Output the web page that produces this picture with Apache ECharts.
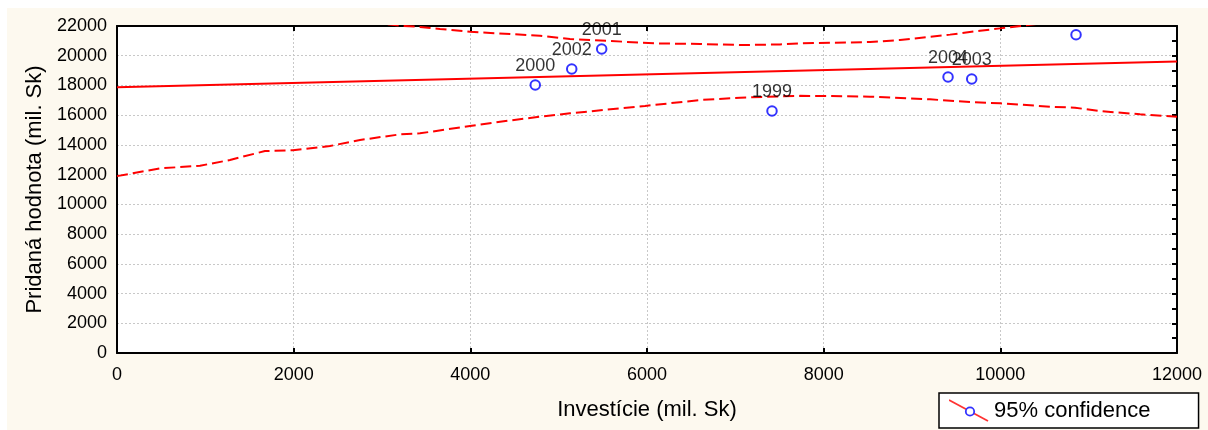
<!DOCTYPE html>
<html>
<head>
<meta charset="utf-8">
<script src="https://cdn.jsdelivr.net/npm/echarts@6/dist/echarts.min.js"></script>
<style>
  html, body { margin: 0; padding: 0; background: #ffffff; }
  #wrap { position: relative; width: 1208px; height: 430px; background: #ffffff; overflow: hidden; }
  #bg { position: absolute; left: 7px; top: 8px; width: 1201px; height: 422px; background: #fdf9ef; }
  #chart { position: absolute; left: 0; top: 0; width: 1208px; height: 430px; }
</style>
</head>
<body>
<div id="wrap"><div id="bg"></div><div id="chart"></div></div>
<script>
// ---- data ----
const pointYears = ['2000', '2002', '2001', '1999', '2004', '2003', ''];
const pointX = [4735, 5148, 5487, 7415, 9408, 9676, 10857];
const pointY = [18030, 19107, 20452, 16281, 18568, 18434, 21415];

const fitX = [0, 12000];
const fitY = [17880, 19620];

const lowerX = [0, 487, 940, 1279, 1675, 1992, 2411, 2751, 3204, 3430, 3996, 4336, 4789, 5128, 5694, 5977, 6600, 7053, 7732, 7993, 8525, 9204, 9657, 9996, 10562, 10846, 11128, 11581, 12000];
const lowerY = [11900, 12420, 12600, 12985, 13590, 13640, 13925, 14330, 14710, 14780, 15270, 15560, 15900, 16125, 16460, 16620, 17020, 17180, 17300, 17290, 17245, 17065, 16890, 16800, 16570, 16500, 16280, 16060, 15900];

const upperX = [0, 940, 1992, 2751, 3204, 3430, 3657, 3996, 4789, 5128, 5581, 6109, 6600, 7053, 7505, 7732, 8525, 8864, 9430, 9770, 9996, 10110, 10562, 11128, 12000];
const upperY = [23860, 23430, 22750, 22320, 22020, 21940, 21800, 21610, 21345, 21120, 20990, 20830, 20790, 20720, 20760, 20830, 20920, 21060, 21420, 21680, 21840, 21910, 22254, 22708, 23340];

const xTicks = { min: 0, max: 12000, step: 2000 };
const yTicks = { min: 0, max: 22000, step: 2000 };

const xLabel = 'Investície (mil. Sk)';
const yLabel = 'Pridaná hodnota (mil. Sk)';
const legendLabel = '95% confidence';

// ---- build ----
const zip = (xs, ys) => xs.map((x, i) => [x, ys[i]]);
const FONT = 'Liberation Sans';

const legendIcon = 'image://data:image/svg+xml;utf8,' + encodeURIComponent(
  '<svg xmlns="http://www.w3.org/2000/svg" width="40" height="23" viewBox="0 0 40 23">' +
  '<line x1="0" y1="1" x2="39" y2="22" stroke="#ff0000" stroke-width="1.8"/>' +
  '<circle cx="21" cy="12.5" r="4.2" fill="#ffffff" stroke="#0000ff" stroke-width="1.8"/>' +
  '</svg>');

const scatterData = pointX.map((x, i) => {
  const d = { value: [x, pointY[i]], name: pointYears[i] };
  if (!pointYears[i]) d.label = { show: false };
  return d;
});

const chart = echarts.init(document.getElementById('chart'), null, { renderer: 'canvas' });
chart.setOption({
  backgroundColor: 'transparent',
  animation: false,
  textStyle: { fontFamily: FONT },
  grid: {
    left: 117, top: 26, right: 31, bottom: 77,
    show: true, backgroundColor: '#ffffff', borderWidth: 0
  },
  legend: {
    data: [{ name: legendLabel, icon: legendIcon }],
    left: 939, top: 393,
    itemWidth: 40, itemHeight: 23,
    padding: [6, 48, 6, 10],
    backgroundColor: '#ffffff',
    borderColor: '#000000', borderWidth: 1.5, borderRadius: 0,
    textStyle: { fontFamily: FONT, fontSize: 22, color: '#000000' },
    selectedMode: false
  },
  xAxis: [{
    type: 'value', min: xTicks.min, max: xTicks.max, interval: xTicks.step,
    position: 'bottom',
    name: xLabel, nameLocation: 'middle', nameGap: 46,
    nameTextStyle: { fontFamily: FONT, fontSize: 22, color: '#000000' },
    axisLine: { show: true, onZero: false, lineStyle: { color: '#000000', width: 2 } },
    axisTick: { show: true, inside: true, length: 5, lineStyle: { color: '#000000', width: 2 } },
    axisLabel: { fontFamily: FONT, fontSize: 18, color: '#000000', margin: 13, formatter: v => String(v) },
    splitLine: { show: true, lineStyle: { color: '#c8c8c8', type: [2, 2], width: 1 } }
  }, {
    type: 'value', min: xTicks.min, max: xTicks.max, interval: xTicks.step,
    position: 'top',
    axisLine: { show: true, onZero: false, lineStyle: { color: '#000000', width: 2 } },
    axisTick: { show: true, inside: true, length: 5, lineStyle: { color: '#000000', width: 2 } },
    axisLabel: { show: false },
    splitLine: { show: false }
  }],
  yAxis: [{
    type: 'value', min: yTicks.min, max: yTicks.max, interval: yTicks.step,
    position: 'left',
    name: yLabel, nameLocation: 'middle', nameGap: 66, nameRotate: 90,
    nameTextStyle: { fontFamily: FONT, fontSize: 22, color: '#000000' },
    axisLine: { show: true, onZero: false, lineStyle: { color: '#000000', width: 2 } },
    axisTick: { show: false },
    axisLabel: { fontFamily: FONT, fontSize: 18, color: '#000000', margin: 10, formatter: v => String(v) },
    splitLine: { show: true, lineStyle: { color: '#c8c8c8', type: [2, 2], width: 1 } }
  }, {
    type: 'value', min: yTicks.min, max: yTicks.max, interval: yTicks.step / 2,
    position: 'right',
    axisLine: { show: true, onZero: false, lineStyle: { color: '#000000', width: 2 } },
    axisTick: { show: true, inside: true, length: 5, lineStyle: { color: '#000000', width: 2 } },
    axisLabel: { show: false },
    splitLine: { show: false }
  }],
  series: [{
    name: 'fit', type: 'line', data: zip(fitX, fitY),
    showSymbol: false, symbol: 'none', clip: true,
    lineStyle: { color: '#ff0000', width: 2 }, z: 3
  }, {
    name: 'lower', type: 'line', data: zip(lowerX, lowerY),
    showSymbol: false, symbol: 'none', clip: true,
    lineStyle: { color: '#ff0000', width: 2, type: [11, 5] }, z: 3
  }, {
    name: 'upper', type: 'line', data: zip(upperX, upperY),
    showSymbol: false, symbol: 'none', clip: true,
    lineStyle: { color: '#ff0000', width: 2, type: [11, 5] }, z: 3
  }, {
    name: legendLabel, type: 'scatter', data: scatterData,
    symbol: 'emptyCircle', symbolSize: 9.5,
    itemStyle: { color: '#0000ff', borderColor: '#0000ff', borderWidth: 2 },
    label: {
      show: true, position: 'top', distance: 4,
      formatter: p => p.name,
      fontFamily: FONT, fontSize: 18, color: '#000000'
    },
    z: 5
  }]
});
</script>
</body>
</html>
